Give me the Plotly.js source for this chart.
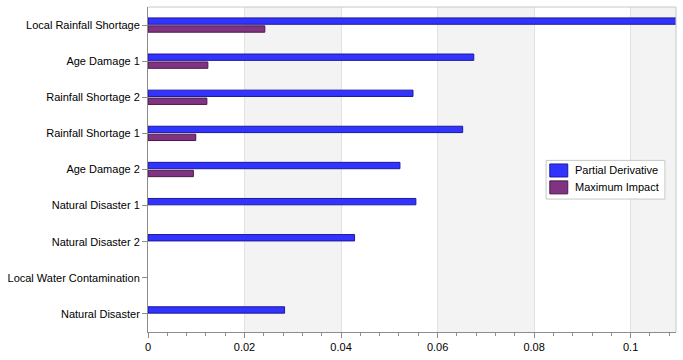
<!DOCTYPE html>
<html>
<head>
<meta charset="utf-8">
<script src="https://cdn.plot.ly/plotly-3.0.1.min.js"></script>
<style>html,body{margin:0;padding:0;background:#fff;}#chart{width:683px;height:360px;}</style>
</head>
<body>
<div id="chart"></div>
<script>
var categories = ["Local Rainfall Shortage", "Age Damage 1", "Rainfall Shortage 2", "Rainfall Shortage 1", "Age Damage 2", "Natural Disaster 1", "Natural Disaster 2", "Local Water Contamination", "Natural Disaster"];
var partialDerivative = [0.115, 0.0675, 0.0549, 0.0652, 0.0522, 0.0555, 0.0428, 0, 0.0283];
var maximumImpact = [0.0242, 0.0124, 0.0122, 0.0099, 0.0094, 0, 0, 0, 0];
var seriesNames = ["Partial Derivative", "Maximum Impact"];
var seriesColors = ["#3333ff", "#803380"];
var seriesLineColors = ["#1a1a99", "#4a1a4a"];
var xTickVals = [0, 0.02, 0.04, 0.06, 0.08, 0.1];
var xTickText = ["0", "0.02", "0.04", "0.06", "0.08", "0.1"];
var xMax = 0.1094;

var FONT = "Liberation Sans, Arial, sans-serif";

var shapes = [];
for (var i = 1; i < xTickVals.length; i += 2) {
  var x1 = (i + 1 < xTickVals.length) ? xTickVals[i + 1] : xMax;
  shapes.push({type: "rect", xref: "x", yref: "paper", x0: xTickVals[i], x1: x1, y0: 0, y1: 1,
    fillcolor: "#f3f3f3", line: {width: 0}, layer: "below"});
}
shapes.push({type: "line", xref: "paper", yref: "paper", x0: 0, x1: 1, y0: 1, y1: 1, line: {color: "#c8c8c8", width: 1}});
shapes.push({type: "line", xref: "paper", yref: "paper", x0: 1, x1: 1, y0: 0, y1: 1, line: {color: "#c8c8c8", width: 1}});

// custom legend box
shapes.push({type: "rect", xref: "paper", yref: "paper", x0: 0.754, x1: 0.979, y0: 0.409, y1: 0.528,
  fillcolor: "#ffffff", line: {color: "#c8c8c8", width: 1}, layer: "above"});
var annotations = [];
var swatchTops = [0.517, 0.465];
for (var s = 0; s < seriesNames.length; s++) {
  shapes.push({type: "rect", xref: "paper", yref: "paper", x0: 0.761, x1: 0.795,
    y0: swatchTops[s] - 0.040, y1: swatchTops[s], fillcolor: seriesColors[s],
    line: {color: seriesLineColors[s], width: 1}, layer: "above"});
  annotations.push({xref: "paper", yref: "paper", x: 0.805, y: swatchTops[s] - 0.020,
    xanchor: "left", yanchor: "middle", showarrow: false, text: seriesNames[s],
    font: {family: FONT, size: 11, color: "#000"}});
}

function lineWidths(vals) { return vals.map(function (v) { return v ? 1 : 0; }); }

var seriesValues = [partialDerivative, maximumImpact];
var traces = seriesValues.map(function (vals, k) {
  return {type: "bar", orientation: "h", name: seriesNames[k], y: categories, x: vals, showlegend: false,
    marker: {color: seriesColors[k], line: {color: seriesLineColors[k], width: lineWidths(vals)}}};
});

var layout = {
  width: 683, height: 360,
  margin: {l: 148, r: 7, t: 7, b: 28, pad: 0},
  paper_bgcolor: "#ffffff", plot_bgcolor: "#ffffff",
  font: {family: FONT, size: 11, color: "#000000"},
  barmode: "group", bargap: 0.56, bargroupgap: 0.2,
  showlegend: false,
  xaxis: {range: [0, xMax], tickvals: xTickVals, ticktext: xTickText,
    showgrid: true, gridcolor: "#e2e2e2", gridwidth: 1, zeroline: false,
    showline: true, linecolor: "#8c8c8c", linewidth: 1,
    ticks: "outside", ticklen: 5, tickcolor: "#8c8c8c",
    minor: {dtick: 0.004, tick0: 0, ticks: "outside", ticklen: 3, tickcolor: "#8c8c8c", showgrid: false},
    tickfont: {family: FONT, size: 11, color: "#000"}, fixedrange: true},
  yaxis: {type: "category", range: [8.5, -0.5], showgrid: false, zeroline: false,
    showline: true, linecolor: "#8c8c8c", linewidth: 1,
    ticks: "outside", ticklen: 5, tickcolor: "#8c8c8c",
    tickfont: {family: FONT, size: 11, color: "#000"}, fixedrange: true},
  shapes: shapes,
  annotations: annotations
};

Plotly.newPlot("chart", traces, layout, {displayModeBar: false, staticPlot: true});
</script>
</body>
</html>
